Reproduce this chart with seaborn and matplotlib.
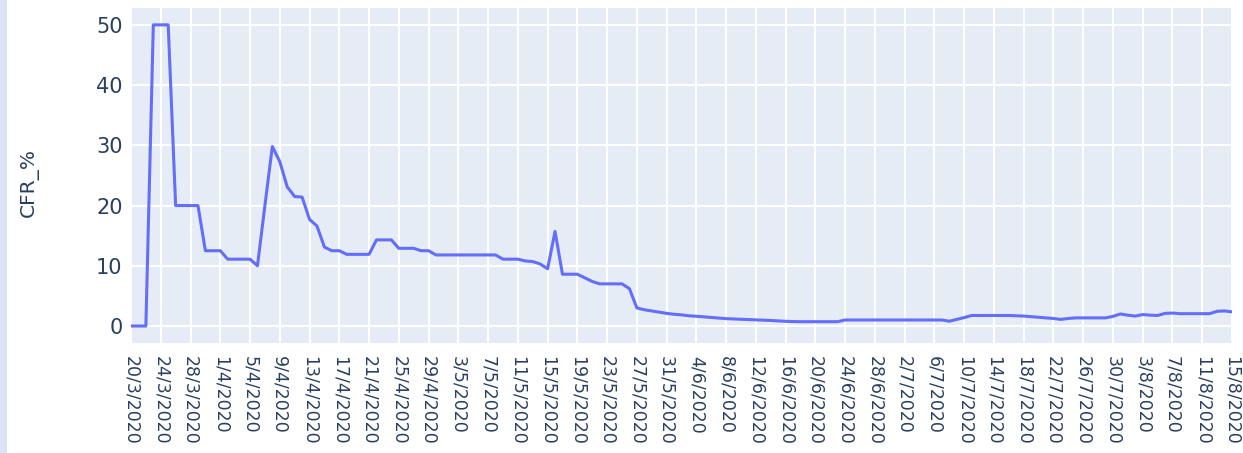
import matplotlib
matplotlib.use("Agg")
import matplotlib.pyplot as plt
import seaborn as sns
import pandas as pd
from matplotlib.patches import Rectangle

# daily dates, 20/3/2020 .. 15/8/2020
dates = pd.date_range("2020-03-20", "2020-08-15", freq="D")
date_labels = [f"{d.day}/{d.month}/{d.year}" for d in dates]

# case fatality rate (%), one value per day
cfr_pct = [
    0, 0, 0, 50, 50, 50, 20, 20, 20, 20,
    12.5, 12.5, 12.5, 11.1, 11.1, 11.1, 11.1, 10.0, 20.0, 29.8,
    27.3, 23.1, 21.5, 21.4, 17.7, 16.6, 13.1, 12.5, 12.5, 11.9,
    11.9, 11.9, 11.9, 14.3, 14.3, 14.3, 12.9, 12.9, 12.9, 12.5,
    12.5, 11.8, 11.8, 11.8, 11.8, 11.8, 11.8, 11.8, 11.8, 11.8,
    11.1, 11.1, 11.1, 10.8, 10.7, 10.3, 9.5, 15.7, 8.6, 8.6,
    8.6, 8.0, 7.4, 7.0, 7.0, 7.0, 7.0, 6.2, 3.0, 2.7,
    2.5, 2.3, 2.1, 1.95, 1.85, 1.7, 1.62, 1.52, 1.42, 1.32,
    1.22, 1.17, 1.12, 1.07, 1.02, 0.97, 0.92, 0.85, 0.78, 0.74,
    0.72, 0.72, 0.72, 0.72, 0.72, 0.72, 1.0, 1.0, 1.0, 1.0,
    1.0, 1.0, 1.0, 1.0, 1.0, 1.0, 1.0, 1.0, 1.0, 1.0,
    0.8, 1.1, 1.4, 1.75, 1.75, 1.75, 1.75, 1.75, 1.75, 1.7,
    1.65, 1.55, 1.45, 1.35, 1.25, 1.1, 1.25, 1.35, 1.35, 1.35,
    1.35, 1.35, 1.6, 2.0, 1.8, 1.65, 1.9, 1.8, 1.75, 2.1,
    2.15, 2.05, 2.05, 2.05, 2.05, 2.05, 2.45, 2.5, 2.35,
]

y_ticks = [0, 10, 20, 30, 40, 50]

df = pd.DataFrame({"date": date_labels, "CFR_%": cfr_pct})

sns.set_theme(style="darkgrid", rc={"axes.facecolor": "#E5ECF6", "grid.color": "white"})
plt.rcParams["font.family"] = ["DejaVu Sans"]

text_color = "#2a3f5f"

fig = plt.figure(figsize=(12.43, 4.53), dpi=100)
fig.patch.set_facecolor("white")
# pale page strip on the left edge
fig.add_artist(Rectangle((0, 0), 7 / 1243, 1, transform=fig.transFigure,
                         facecolor="#dce3f4", edgecolor="none", zorder=0))

ax = fig.add_axes([131 / 1243, 1 - 343 / 453, (1232 - 131) / 1243, (343 - 8) / 453])
sns.lineplot(data=df, x="date", y="CFR_%", ax=ax, color="#636EFA",
             linewidth=2.2, sort=False)

ax.set_xlim(0, len(date_labels) - 1)
ax.set_ylim(-2.82, 52.8)

ax.set_xticks(range(0, len(date_labels), 4))
ax.set_xticklabels(date_labels[::4], rotation=-90, ha="center", va="top",
                   fontsize=12.5, color=text_color)
ax.set_yticks(y_ticks)
ax.set_yticklabels([str(v) for v in y_ticks], fontsize=15, color=text_color)
ax.tick_params(axis="x", length=0, pad=9)
ax.tick_params(axis="y", length=0, pad=6)

ax.grid(True, color="white", linewidth=1.5)
for s in ax.spines.values():
    s.set_visible(False)

ax.set_xlabel("")
ax.set_ylabel("CFR_%", fontsize=14.5, color=text_color)
ax.yaxis.set_label_coords(-0.084, 0.48)

fig.savefig("out.png", dpi=100)
